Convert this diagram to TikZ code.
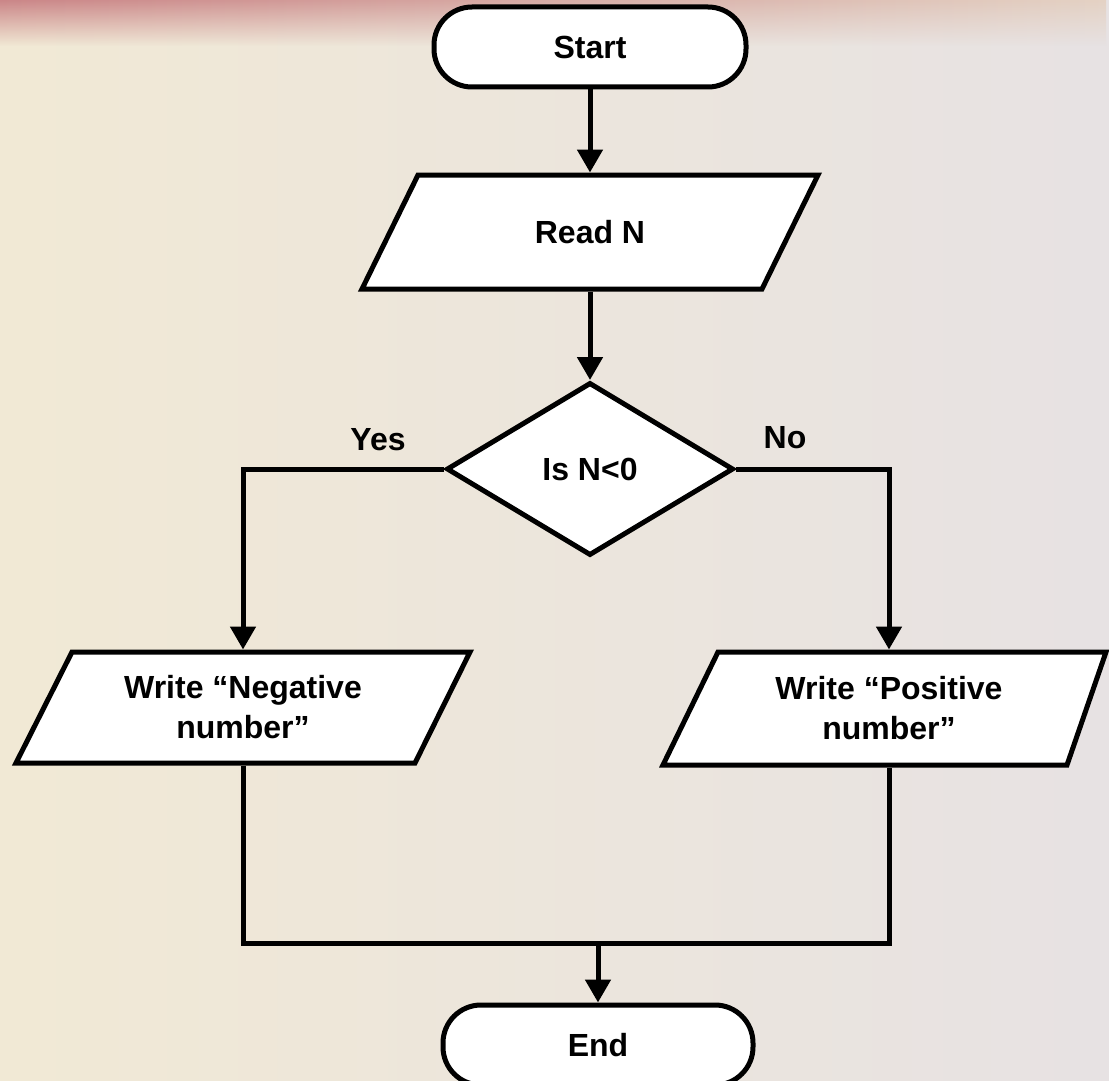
\documentclass[tikz,border=0pt]{standalone}
\usepackage{fontspec}
\setmainfont{Liberation Sans}
\usetikzlibrary{arrows.meta,shapes.geometric,fadings,calc}
\definecolor{bgleft}{RGB}{241,233,213}
\definecolor{bgright}{RGB}{231,226,227}
\definecolor{bandleft}{RGB}{203,134,136}
\definecolor{bandmid}{RGB}{214,168,162}
\definecolor{bandright}{RGB}{228,210,196}
\pgfdeclarelayer{backdrop}
\pgfdeclarelayer{frames}
\pgfsetlayers{backdrop,frames,main}
% input/output frame around a named node:
% #1 node, #2..#5 x offsets of top-left, top-right, bottom-right, bottom-left corners, #6 half height
\newcommand\ioframe[6]{%
  \begin{pgfonlayer}{frames}
    \draw[framestyle] ($(#1.center)+(#2,-#6)$) -- ($(#1.center)+(#3,-#6)$)
      -- ($(#1.center)+(#4,#6)$) -- ($(#1.center)+(#5,#6)$) -- cycle;
  \end{pgfonlayer}}
\begin{document}
\begin{tikzpicture}[x=1pt,y=-1pt,
  every node/.style={font=\fontsize{32}{40}\selectfont\bfseries},
  framestyle/.style={draw=black, fill=white, line width=5pt, line join=miter},
  flowbox/.style={framestyle, align=center, inner sep=0pt},
  terminal/.style={flowbox, rectangle, rounded corners=38pt,
    minimum width=312pt, minimum height=80pt},
  iobox/.style={rectangle, align=center, inner sep=0pt, outer sep=2.5pt},
  decision/.style={flowbox, diamond, minimum width=287pt, minimum height=173pt},
  link/.style={line width=5pt},
  arrowlink/.style={link, -{Triangle[length=23pt,width=25pt]}},
  tag/.style={inner sep=0pt}]

  % page background
  \useasboundingbox (0,0) rectangle (1109,1081);
  \begin{pgfonlayer}{backdrop}
    \shade[left color=bgleft, right color=bgright] (0,0) rectangle (1109,1081);
    \shade[left color=bandleft, middle color=bandmid, right color=bandright,
      path fading=south] (0,0) rectangle (1109,46);
  \end{pgfonlayer}

  % flowchart nodes
  \node[terminal] (start) at (590,47) {Start};
  \node[iobox, minimum width=400pt, minimum height=114pt] (read) at (590,232) {Read N};
  \ioframe{read}{-172}{228}{172}{-228}{57}
  \node[decision] (test) at (590,469) {Is N<0};
  \node[iobox, minimum width=398pt, minimum height=111pt] (neg) at (243,707.5)
    {Write “Negative\\number”};
  \ioframe{neg}{-171}{227}{172}{-227}{55.5}
  \node[iobox, minimum width=392pt, minimum height=113pt] (pos) at (889,708.5)
    {Write “Positive\\number”};
  \ioframe{pos}{-171}{217}{178}{-226}{56.5}
  \node[terminal, minimum width=310pt] (end) at (598,1045) {End};

  % branch labels
  \node[tag] (yes) at (378,440) {Yes};
  \node[tag] (no) at (785,438) {No};

  % connectors
  \coordinate (join) at (598,943);
  \draw[arrowlink] (start.south) -- (read.north);
  \draw[arrowlink] (read.south) -- (test.north);
  \draw[arrowlink] (test.west) -| (neg.north);
  \draw[arrowlink] (test.east) -| (pos.north);
  \draw[link] (neg.south) -- (neg.south |- join) -- (pos.south |- join) -- (pos.south);
  \draw[arrowlink] (join) -- (end.north);
\end{tikzpicture}
\end{document}
